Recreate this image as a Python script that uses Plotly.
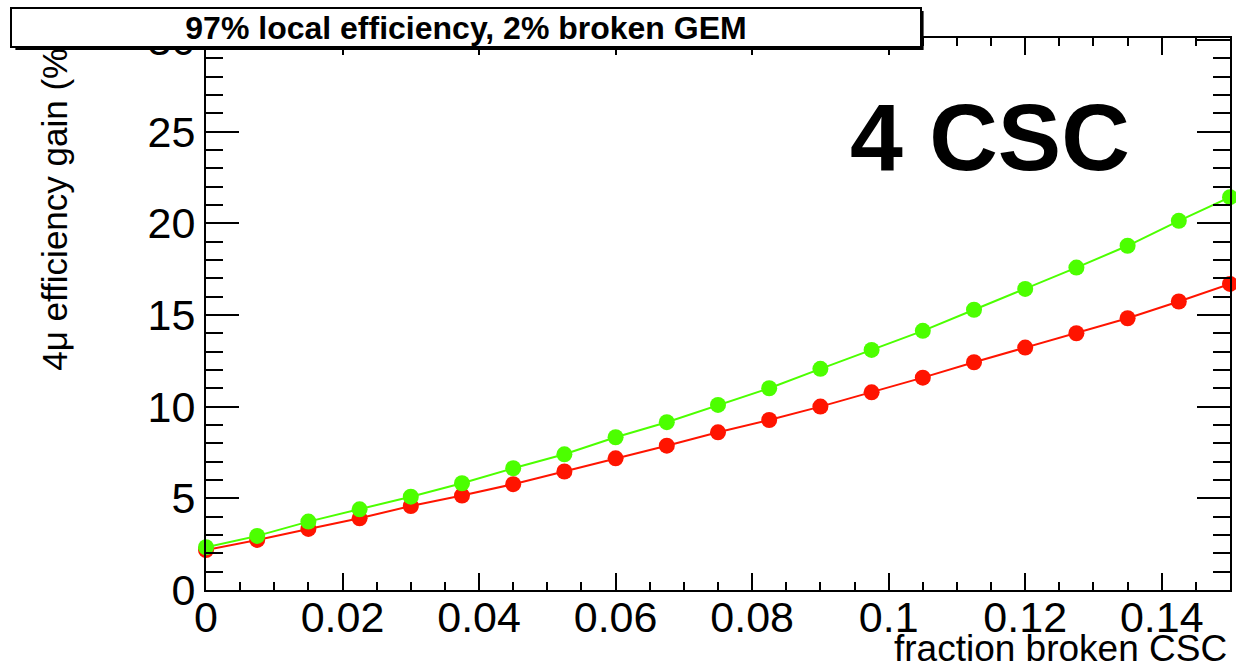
import plotly.graph_objects as go

# Data
fraction_broken = [0.0, 0.0075, 0.015, 0.0225, 0.03, 0.0375, 0.045, 0.0525, 0.06, 0.0675,
                   0.075, 0.0825, 0.09, 0.0975, 0.105, 0.1125, 0.12, 0.1275, 0.135, 0.1425, 0.15]
gain_green = [2.33, 2.95, 3.73, 4.40, 5.09, 5.82, 6.64, 7.40, 8.33, 9.15,
              10.09, 11.00, 12.06, 13.09, 14.13, 15.28, 16.42, 17.58, 18.77, 20.13, 21.42]
gain_red = [2.18, 2.73, 3.33, 3.91, 4.58, 5.15, 5.77, 6.46, 7.18, 7.87,
            8.60, 9.27, 10.00, 10.78, 11.58, 12.42, 13.22, 14.00, 14.82, 15.73, 16.69]

W, H = 1236, 671
L, R, T, B = 206, 4, 38, 81
PW, PH = W - L - R, H - T - B

def px(xp):
    return (xp - L) / PW

def py(yp):
    return (H - B - yp) / PH

FONT = "Liberation Sans, Arial, Helvetica, sans-serif"

fig = go.Figure()
fig.add_trace(go.Scatter(x=fraction_broken, y=gain_red, mode="lines+markers",
                         line=dict(color="#FF1400", width=2),
                         marker=dict(color="#FF1400", size=16, symbol="circle"),
                         cliponaxis=False, showlegend=False))
fig.add_trace(go.Scatter(x=fraction_broken, y=gain_green, mode="lines+markers",
                         line=dict(color="#4CFF00", width=2),
                         marker=dict(color="#4CFF00", size=16, symbol="circle"),
                         cliponaxis=False, showlegend=False))

fig.update_layout(
    width=W, height=H,
    margin=dict(l=L, r=R, t=T, b=B, pad=0),
    paper_bgcolor="white", plot_bgcolor="white",
    font=dict(family=FONT, color="black"),
    xaxis=dict(range=[0, 0.15], tick0=0, dtick=0.02, showgrid=False, zeroline=False,
               showline=True, linecolor="black", linewidth=2, mirror="ticks",
               ticks="inside", ticklen=17, tickwidth=2, tickcolor="black",
               minor=dict(dtick=0.005, ticks="inside", ticklen=8, tickwidth=2, tickcolor="black"),
               tickfont=dict(size=43, family=FONT), ticklabelstandoff=-12),
    yaxis=dict(range=[0, 30.1], tick0=0, dtick=5, showgrid=False, zeroline=False,
               showline=True, linecolor="black", linewidth=2, mirror="ticks",
               ticks="inside", ticklen=33, tickwidth=2, tickcolor="black",
               minor=dict(dtick=1, ticks="inside", ticklen=17, tickwidth=2, tickcolor="black"),
               tickfont=dict(size=43, family=FONT)),
)

# Shadow of the title box
fig.add_shape(type="rect", xref="paper", yref="paper",
              x0=px(15), x1=px(925), y0=py(50), y1=py(11),
              fillcolor="black", line=dict(width=0), layer="above")

annotations = [
    dict(text="4μ efficiency gain (%)", textangle=-90, xref="paper", yref="paper",
         x=px(54), y=py(34), xanchor="center", yanchor="top", showarrow=False,
         font=dict(size=35, family=FONT)),
    dict(text="fraction broken CSC", xref="paper", yref="paper",
         x=px(1231), y=py(648), xanchor="right", yanchor="middle", showarrow=False,
         font=dict(size=37, family=FONT)),
    dict(text="<b>4 CSC</b>", xref="paper", yref="paper",
         x=px(992), y=py(137), xanchor="center", yanchor="middle", showarrow=False,
         font=dict(size=95, family=FONT)),
    dict(text="<b>97% local efficiency, 2% broken GEM</b>", xref="paper", yref="paper",
         x=px(467), y=py(27), xanchor="center", yanchor="middle", showarrow=False,
         width=908, height=37, borderpad=0, bgcolor="white", bordercolor="black", borderwidth=2,
         font=dict(size=32, family=FONT)),
]
fig.update_layout(annotations=annotations)

fig.write_html("out.html")
